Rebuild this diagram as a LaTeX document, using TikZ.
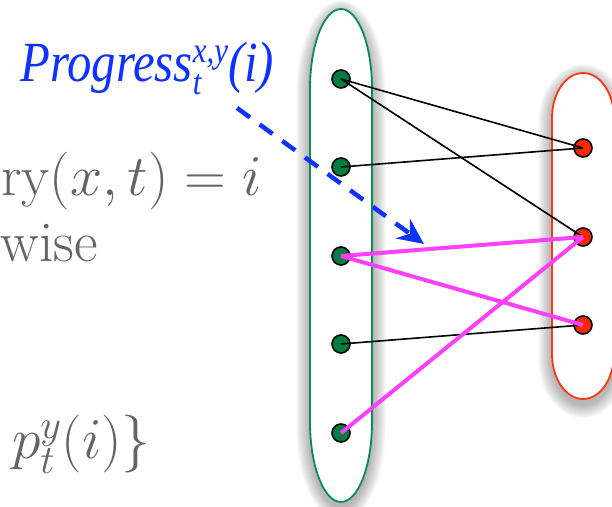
\documentclass[tikz,border=0pt]{standalone}
\usepackage{fix-cm}
\usepackage{fontspec}
\newfontfamily\progfont{Liberation Serif}
\usetikzlibrary{arrows.meta}
\definecolor{setgreen}{RGB}{10,140,85}
\definecolor{dotgreen}{RGB}{0,125,65}
\definecolor{setred}{RGB}{255,55,20}
\definecolor{dotred}{RGB}{255,40,0}
\definecolor{hotpink}{RGB}{255,64,255}
\definecolor{progblue}{RGB}{15,50,255}
\definecolor{mathgray}{RGB}{100,100,100}

% capsule: centre x, top and bottom of the straight sides, x radius, y radius
\newcommand{\capsulepath}[5]{({#1-(#4)},{#3}) -- ({#1-(#4)},{#2})
  arc[start angle=180,end angle=0,x radius={#4},y radius={#5}]
  -- ({#1+(#4)},{#3})
  arc[start angle=0,end angle=-180,x radius={#4},y radius={#5}] -- cycle}

\begin{document}
\begin{tikzpicture}[x=1bp,y=1bp,
    gdot/.style={circle,draw=black,line width=1.6bp,fill=dotgreen,minimum size=18bp,inner sep=0pt},
    rdot/.style={gdot,fill=dotred},
    thinedge/.style={black,line width=1.6bp},
    hotedge/.style={hotpink,line width=4bp},
    progarrow/.style={progblue,line width=4.5bp,dash pattern=on 16bp off 12bp,-{Stealth[length=26bp,width=24bp]}},
    mathtext/.style={mathgray,inner sep=0pt,font=\fontsize{58}{70}\selectfont}]
  \useasboundingbox (0,0) rectangle (612,507);

  % soft shadows under the two sets
  \foreach \k in {1,...,14} {
    \fill[black,opacity=0.022] \capsulepath{341}{413}{80}{31+\k}{80+\k};
    \fill[black,opacity=0.022] \capsulepath{583}{384}{148}{31+\k}{45+\k};
  }

  % the two sets
  \filldraw[fill=white,draw=setgreen,line width=1.8bp] \capsulepath{341}{418}{85}{31}{80};
  \filldraw[fill=white,draw=setred,line width=1.8bp] \capsulepath{583}{389}{153}{31}{45};

  % label and its arrow
  \node[progblue,anchor=base west,inner sep=0pt,font=\progfont\itshape\fontsize{57}{60}\selectfont] (prog) at (20,425)
    {\scalebox{0.86}[1]{Progress\rlap{\raisebox{-13bp}{\fontsize{36}{40}\selectfont t}}\raisebox{19bp}{\fontsize{36}{40}\selectfont x,y}(i)}};
  \coordinate (tail) at (237,399);
  \coordinate (tip) at (424,263);
  \draw[progarrow] (tail) -- (tip);

  % dots
  \foreach \i/\y in {1/79,2/167,3/256,4/344,5/433}
    \node[gdot] (g\i) at (341,507-\y) {};
  \foreach \i/\y in {1/148,2/237,3/325}
    \node[rdot] (r\i) at (583,507-\y) {};

  % edges
  \draw[thinedge] (g1.center) -- (r1.center);
  \draw[thinedge] (g1.center) -- (r2.center);
  \draw[thinedge] (g2.center) -- (r1.center);
  \draw[thinedge] (g4.center) -- (r3.center);
  \draw[hotedge] (g3.center) -- (r2.center);
  \draw[hotedge] (g3.center) -- (r3.center);
  \draw[hotedge] (g5.center) -- (r2.center);

  % formula pieces, cut by the page edge
  \node[mathtext,anchor=base east] (eqline) at (262,311) {ry$(x,t)=i$};
  \node[mathtext,anchor=base west] (wiseline) at (0.5,245) {wise};
  \node[mathtext,anchor=base east] (maxline) at (151,48) {$p_t^y(i)\}$};
\end{tikzpicture}
\end{document}
